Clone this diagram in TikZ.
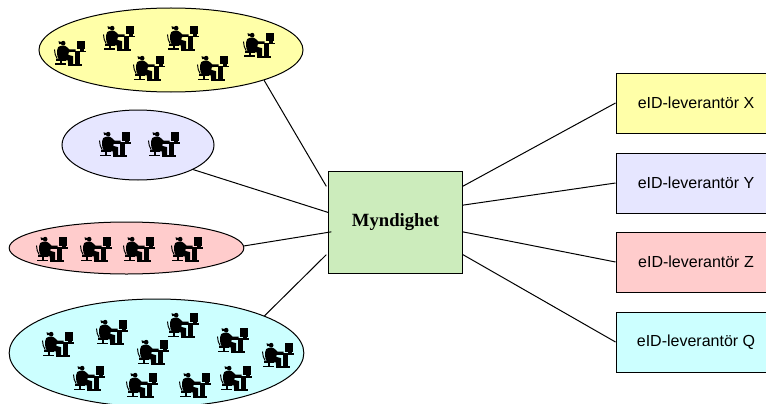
\documentclass[tikz,border=0pt]{standalone}
\usepackage{fontspec}
\setmainfont{Liberation Serif}
\setsansfont{Liberation Sans}
\usetikzlibrary{shapes.geometric}
\definecolor{cy}{HTML}{FFFFA8}
\definecolor{cl}{HTML}{E6E6FF}
\definecolor{cp}{HTML}{FFCCCC}
\definecolor{cc}{HTML}{CCFFFF}
\definecolor{cg}{HTML}{CCECBC}
\tikzset{
  x=0.75pt,y=-0.75pt,
  group/.style={ellipse,draw=black,line width=0.75pt,inner sep=0pt,minimum width=#1},
  prov/.style={rectangle,draw=black,line width=0.75pt,inner sep=0pt,minimum width=120pt,minimum height=45pt,font=\sffamily\fontsize{12pt}{14pt}\selectfont},
  link/.style={draw=black,line width=0.75pt},
  icon/.pic={
    \begin{scope}[shift={(-20.5,-21.5)},x=0.25pt,y=-0.25pt]
      \fill[black] (41,38) circle (7);
      \fill[black] (36,35) -- (27,32) -- (29,41) -- (36,40) -- cycle;
      \fill[black] (26,50) .. controls (33,44) and (46,44) .. (50,48) -- (60,57) -- (78,57) -- (78,63) -- (58,65) -- (56,73) -- (71,77) -- (71,103) -- (56,103) -- (55,90) -- (28,88) .. controls (21,76) and (21,60) .. (26,50) -- cycle;
      \draw[black,line width=0.7pt] (15,57) .. controls (15,67) and (18,77) .. (23,85);
      \fill[black] (20,85) -- (48,85) -- (48,91) -- (20,91) -- cycle;
      \fill[black] (31,91) rectangle (37,100);
      \fill[black] (16,99) rectangle (50,104);
      \fill[black] (54,61) rectangle (108,66);
      \fill[black] (75,66) rectangle (92,101);
      \fill[black] (54,101) rectangle (97,106);
      \fill[black] (83,31) rectangle (106,57);
      \fill[black] (90,55) rectangle (103,61);
    \end{scope}
  }
}
\begin{document}
\begin{tikzpicture}
\useasboundingbox (0,0) rectangle (766,403);
\node[group=198pt,minimum height=63pt,fill=cy] (gy) at (171,50) {};
\node[group=114pt,minimum height=52.5pt,fill=cl] (gl) at (138,145) {};
\node[group=176pt,minimum height=39pt,fill=cp] (gp) at (126.5,248) {};
\node[group=221pt,minimum height=81pt,fill=cc] (gc) at (156.5,353) {};
\node[rectangle,draw=black,line width=0.75pt,fill=cg,inner sep=0pt,minimum width=100pt,minimum height=76pt,font=\fontsize{14pt}{16pt}\selectfont\bfseries] (m) at (395.5,222.5) {Myndighet};
\node[prov,fill=cy] (x) at (696,103) {eID-leverantör X};
\node[prov,fill=cl] (y) at (696,183) {eID-leverantör Y};
\node[prov,fill=cp] (z) at (696,262) {eID-leverantör Z};
\node[prov,fill=cc] (q) at (696,342) {eID-leverantör Q};
\draw[link] (gy.-18) -- ([xshift=-1.5pt,yshift=-11.25pt]m.north west);
\draw[link] (gl.-24.8) -- ([yshift=7.5pt]m.west);
\draw[link] (gp.1) -- ([xshift=2.25pt,yshift=-7pt]m.west);
\draw[link] (gc.19.7) -- ([xshift=-1.5pt,yshift=14.25pt]m.south west);
\draw[link] ([yshift=-11.25pt]m.north east) -- (x.west);
\draw[link] ([yshift=13pt]m.east) -- (y.west);
\draw[link] ([yshift=-7pt]m.east) -- (z.west);
\draw[link] ([yshift=-24pt]m.east) -- (q.west);
\foreach \a/\b in {70/52,119/37,149/67,183/37,213/67,259/44,
  115/143,164/143,
  52/248,96/248,139/248,187/248,
  58/343,112/331,183/324,153/351,233/339,278/354,89/377,142/384,195/384,236/377}
  \pic at (\a,\b) {icon};
\end{tikzpicture}
\end{document}
